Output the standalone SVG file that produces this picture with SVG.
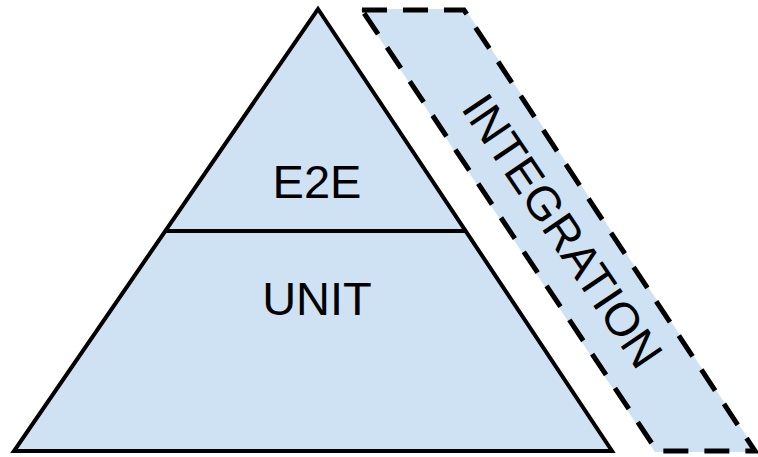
<svg xmlns="http://www.w3.org/2000/svg" width="758" height="457" viewBox="0 0 758 457">
<style>
.fill{fill:#cfe2f3}
.solid{stroke:#000;stroke-width:4;stroke-linejoin:miter}
.dash{fill:none;stroke:#000;stroke-width:5;stroke-dasharray:25 16}
.lbl{font-family:"Liberation Sans",Arial,sans-serif;font-size:47px;fill:#000;text-anchor:middle}
</style>
<rect width="758" height="457" fill="#fff"/>
<g id="integration">
<polygon class="fill" points="360,9 465,9 757,452 655,452"/>
<polygon class="dash" points="362,10 464,10 755,451 657,451"/>
<text class="lbl" font-size="48" transform="translate(549,240) rotate(56)">INTEGRATION</text>
</g>
<g id="pyramid">
<polygon class="fill solid" points="318,9 612,451 14,451"/>
<line class="solid" x1="166" y1="231" x2="466" y2="231"/>
</g>
<g id="e2e"><text class="lbl" x="317" y="198">E2E</text></g>
<g id="unit"><text class="lbl" x="317" y="315">UNIT</text></g>
</svg>
